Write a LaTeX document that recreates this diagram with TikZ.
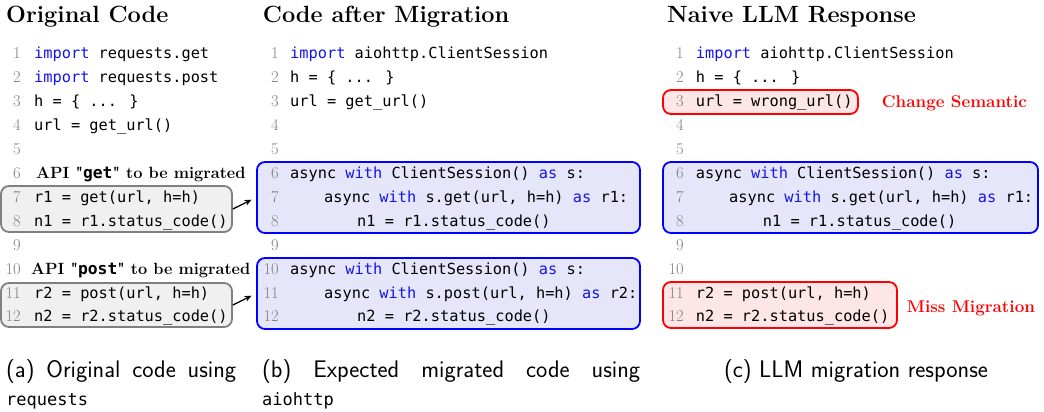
\documentclass[tikz,border=0pt]{standalone}
\usepackage{fontspec}
\newfontfamily\codefont{DejaVu Sans Mono}
\newfontfamily\straightrm{Latin Modern Roman}[Ligatures=TeXOff]
\usetikzlibrary{arrows.meta}

\definecolor{kwblue}{RGB}{20,20,235}
\definecolor{numgray}{RGB}{128,128,128}
\definecolor{boxgray}{RGB}{128,128,128}
\definecolor{fillgray}{RGB}{240,240,240}
\definecolor{fillblue}{RGB}{230,230,250}
\definecolor{fillred}{RGB}{253,230,230}

\newcommand{\kw}[1]{\textcolor{kwblue}{#1}}
\newcommand{\capmono}{\codefont\fontsize{17}{28}\selectfont}
\newcommand{\apiname}[1]{{\straightrm\bfseries"}{\codefont\bfseries #1}{\straightrm\bfseries"}}

\tikzset{
  code/.style={anchor=base west, inner sep=0pt, font=\codefont\fontsize{15.3}{18}\selectfont},
  lnum/.style={anchor=base east, inner sep=0pt, text=numgray, font=\fontsize{16.5}{18}\selectfont},
  head/.style={anchor=base west, inner sep=0pt, font=\fontsize{23.5}{28}\selectfont\bfseries},
  note/.style={anchor=base west, inner sep=0pt, text=red, font=\fontsize{17}{20}\selectfont\bfseries},
  api/.style={anchor=base west, inner sep=0pt, font=\fontsize{16.3}{18}\selectfont\bfseries},
  hunk/.style={draw, line width=1.8pt, rounded corners=8pt, inner sep=0pt},
  oldbox/.style={hunk, draw=boxgray, fill=fillgray},
  newbox/.style={hunk, draw=blue, fill=fillblue},
  badbox/.style={hunk, draw=red, fill=fillred},
  caption/.style={anchor=north west, inner sep=0pt, font=\sffamily\fontsize{24}{28}\selectfont}
}

\begin{document}
\begin{tikzpicture}[x=1pt,y=-1pt]
    \useasboundingbox (0,0) rectangle (1044,412);

    % highlighted hunks
    \node[oldbox, minimum width=231pt, minimum height=46pt] (getold) at (116.5,209) {};
    \node[oldbox, minimum width=231pt, minimum height=44pt] (postold) at (116.5,305) {};
    \node[newbox, minimum width=383pt, minimum height=71pt] (getnew) at (448.5,197.5) {};
    \node[newbox, minimum width=383pt, minimum height=71pt] (postnew) at (448.5,293.5) {};
    \node[newbox, minimum width=375pt, minimum height=71pt] (getllm) at (850.5,197.5) {};
    \node[badbox, minimum width=195pt, minimum height=24pt] (urlllm) at (760.5,102) {};
    \node[badbox, minimum width=234pt, minimum height=46pt] (postllm) at (780,305) {};

    \draw[-{Stealth[length=7pt,width=6pt]}, line width=1.3pt, shorten >=5pt] (getold.east) -- (getnew.west);
    \draw[-{Stealth[length=7pt,width=6pt]}, line width=1.3pt, shorten >=5pt] (postold.east) -- (postnew.west);

    % titles
    \node[head] (hold) at (6,23) {Original Code};
    \node[head] (hnew) at (262.7,23) {Code after Migration};
    \node[head] (hllm) at (667,23) {Naive LLM Response};

    % line numbers
    \foreach \n in {1,...,12} {
        \node[lnum] (na\n) at (21,{59+23.9*(\n-1)}) {\n};
        \node[lnum] (nb\n) at (279,{59+23.9*(\n-1)}) {\n};
        \node[lnum] (nc\n) at (684,{59+23.9*(\n-1)}) {\n};
    }

    % original code
    \node[code] (a1) at (34,59) {\kw{import} requests.get};
    \node[code] (a2) at (34,82.9) {\kw{import} requests.post};
    \node[code] (a3) at (34,106.8) {h = \{ ... \}};
    \node[code] (a4) at (34,130.7) {url = get\_url()};
    \node[api] (a6) at (36,178.5) {API \apiname{get} to be migrated};
    \node[code] (a7) at (34,202.4) {r1 = get(url, h=h)};
    \node[code] (a8) at (34,226.3) {n1 = r1.status\_code()};
    \node[api] (a10) at (31,274.1) {API \apiname{post} to be migrated};
    \node[code] (a11) at (34,298) {r2 = post(url, h=h)};
    \node[code] (a12) at (34,321.9) {n2 = r2.status\_code()};

    % expected migration
    \node[code] (b1) at (290,59) {\kw{import} aiohttp.ClientSession};
    \node[code] (b2) at (290,82.9) {h = \{ ... \}};
    \node[code] (b3) at (290,106.8) {url = get\_url()};
    \node[code] (b6) at (290,178.5) {async \kw{with} ClientSession() \kw{as} s:};
    \node[code] (b7) at (324,202.4) {async \kw{with} s.get(url, h=h) \kw{as} r1:};
    \node[code] (b8) at (357,226.3) {n1 = r1.status\_code()};
    \node[code] (b10) at (290,274.1) {async \kw{with} ClientSession() \kw{as} s:};
    \node[code] (b11) at (324,298) {async \kw{with} s.post(url, h=h) \kw{as} r2:};
    \node[code] (b12) at (357,321.9) {n2 = r2.status\_code()};

    % llm response
    \node[code] (c1) at (695.7,59) {\kw{import} aiohttp.ClientSession};
    \node[code] (c2) at (695.7,82.9) {h = \{ ... \}};
    \node[code] (c3) at (695.7,106.8) {url = wrong\_url()};
    \node[code] (c6) at (695.7,178.5) {async \kw{with} ClientSession() \kw{as} s:};
    \node[code] (c7) at (729,202.4) {async \kw{with} s.get(url, h=h) \kw{as} r1:};
    \node[code] (c8) at (762.7,226.3) {n1 = r1.status\_code()};
    \node[code] (c11) at (695.7,298) {r2 = post(url, h=h)};
    \node[code] (c12) at (695.7,321.9) {n2 = r2.status\_code()};

    \node[note] (sem) at (881.7,107.5) {Change Semantic};
    \node[note] (miss) at (906.7,312) {Miss Migration};

    % captions
    \node[caption, text width=230pt, align=justify] (capa) at (6,359) {(a) Original code using\linebreak{\capmono requests}};
    \node[caption, text width=378pt, align=justify] (capb) at (262,359) {(b) Expected migrated code using\linebreak{\capmono aiohttp}};
    \node[caption, anchor=north] (capc) at (856,359) {(c) LLM migration response};
\end{tikzpicture}
\end{document}
